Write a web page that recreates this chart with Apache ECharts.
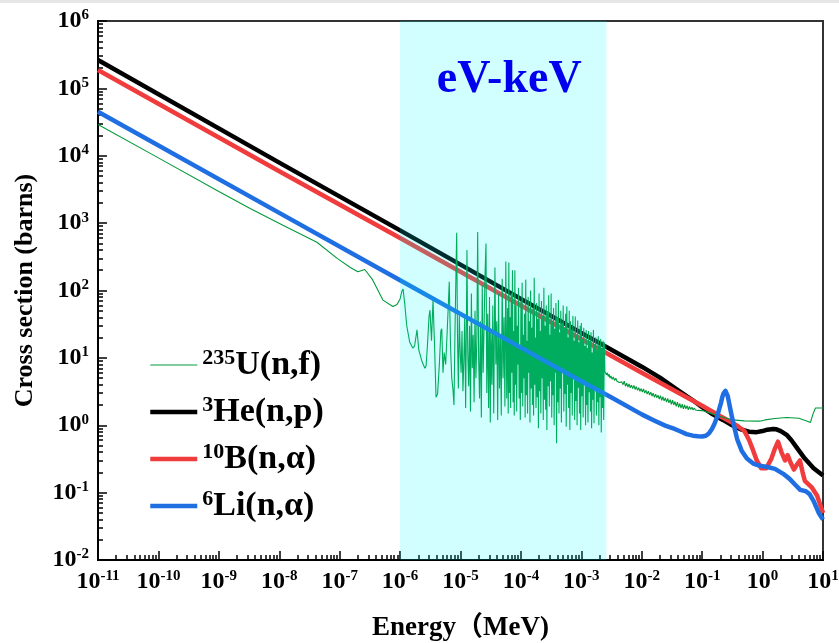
<!DOCTYPE html>
<html><head><meta charset="utf-8">
<script src="https://cdn.jsdelivr.net/npm/echarts@6/dist/echarts.min.js"></script>
<style>html,body{margin:0;padding:0;background:#fff}#c{width:839px;height:643px}</style>
</head><body><div id="c"></div>
<script>
// ---------- data (energies in MeV, cross sections in barns) ----------
const heE = [1e-11, 1e-8, 1e-6, 1e-4, 1e-3, 1e-2, 0.02, 0.04, 0.07, 0.1, 0.15, 0.22, 0.3, 0.45, 0.6, 0.8, 1.0, 1.2, 1.5, 1.7, 2.0, 2.5, 3.0, 4.0, 5.0, 7.0, 10];
const heV = [2.63e5, 7.9e3, 780, 75, 23.5, 7.4, 5.1, 3.3, 2.35, 1.85, 1.45, 1.2, 1.02, 0.86, 0.8, 0.79, 0.82, 0.86, 0.88, 0.87, 0.82, 0.72, 0.6, 0.42, 0.32, 0.23, 0.18];

const bE = [1e-11, 1e-8, 1e-6, 1e-4, 1e-2, 0.1, 0.2, 0.3, 0.4, 0.5, 0.6, 0.7, 0.8, 0.95, 1.15, 1.4, 1.6, 1.8, 2.05, 2.35, 2.6, 2.9, 3.3, 3.7, 4.15, 4.6, 5.0, 6.5, 8.0, 10];
const bV = [1.87e5, 5.9e3, 600, 60, 6.0, 1.95, 1.36, 1.12, 0.95, 0.82, 0.6, 0.42, 0.3, 0.23, 0.23, 0.32, 0.45, 0.57, 0.4, 0.3, 0.36, 0.28, 0.22, 0.26, 0.3, 0.2, 0.15, 0.12, 0.09, 0.05];

const liE = [1e-11, 1e-8, 1e-6, 1e-4, 1e-3, 3e-3, 1e-2, 0.016, 0.025, 0.035, 0.045, 0.055, 0.07, 0.085, 0.1, 0.115, 0.13, 0.145, 0.16, 0.175, 0.19, 0.205, 0.215, 0.225, 0.235, 0.243, 0.25, 0.258, 0.265, 0.275, 0.29, 0.31, 0.33, 0.355, 0.38, 0.41, 0.45, 0.55, 0.7, 0.9, 1.2, 1.6, 2.2, 2.8, 3.5, 4.2, 5.2, 6.0, 7.0, 8.5, 10];
const liV = [4.5e4, 1.42e3, 142, 14.2, 4.5, 2.65, 1.45, 1.18, 0.98, 0.88, 0.8, 0.74, 0.7, 0.685, 0.68, 0.7, 0.76, 0.88, 1.05, 1.3, 1.7, 2.15, 2.6, 2.95, 3.15, 3.25, 3.2, 3.05, 2.7, 2.3, 1.8, 1.35, 1.05, 0.8, 0.62, 0.52, 0.42, 0.32, 0.27, 0.25, 0.24, 0.225, 0.19, 0.16, 0.13, 0.11, 0.105, 0.095, 0.075, 0.05, 0.04];

// 235U(n,f): thermal region [E, sigma]
const u235Low = [[1e-11, 2.9e4], [1e-10, 9.3e3], [1e-9, 2.95e3], [3.3e-9, 1.65e3], [1.15e-8, 930], [4.2e-8, 520], [9.1e-8, 300], [1.5e-7, 220], [2.0e-7, 190], [2.6e-7, 205], [3.5e-7, 145], [5.2e-7, 72], [7.6e-7, 58], [8.9e-7, 62]];
// resolved resonance region [log10(E), sigma]
const u235Res = [
[-6.00,75],[-5.97,98],[-5.95,105],[-5.92,60],[-5.89,30],[-5.84,17],[-5.79,14],[-5.76,15],[-5.72,26],[-5.69,13],[-5.64,9],[-5.59,7],[-5.57,7.5],[-5.55,14],[-5.52,42],[-5.505,51],[-5.48,18],[-5.455,72],[-5.43,16],[-5.405,2.6],[-5.38,2.9],[-5.35,8],[-5.325,25],[-5.31,27],[-5.29,6],[-5.27,12],[-5.245,8],[-5.225,20],[-5.20,65],[-5.186,135],[-5.165,15],[-5.145,5],[-5.125,3.4],[-5.108,2.0],[-5.09,30],[-5.075,180],[-5.063,720],[-5.05,22],[-5.035,3.5],[-5.02,42],[-5.005,12],
[-4.99,6],[-4.975,25],[-4.96,3.2],[-4.945,9],[-4.93,40],[-4.915,1.8],[-4.90,60],[-4.893,400],[-4.88,12],[-4.865,3.8],[-4.85,30],[-4.835,1.6],[-4.82,90],[-4.805,7],[-4.79,22],[-4.775,2.2],[-4.76,50],[-4.745,5],[-4.73,18],[-4.716,740],[-4.70,10],[-4.685,2.5],[-4.67,35],[-4.655,1.3],[-4.64,120],[-4.625,6],[-4.61,28],[-4.595,160],[-4.578,500],[-4.565,3],[-4.55,45],[-4.535,1.8],[-4.52,80],[-4.507,1.1],[-4.495,25],[-4.48,4],[-4.465,60],[-4.45,1.5],[-4.43,220],[-4.415,8],[-4.40,35],[-4.385,1.2],[-4.37,90],[-4.355,3.5],[-4.34,20],[-4.325,1.4],[-4.31,150],[-4.295,5],[-4.28,40],[-4.265,1.9],[-4.25,270],[-4.235,2.5],[-4.22,55],[-4.21,1.5],
[-4.20,260],[-4.19,3.0],[-4.18,40],[-4.17,1.8],[-4.16,90],[-4.15,6],[-4.14,200],[-4.13,2.2],[-4.12,25],[-4.11,1.4],
[-4.10,200],[-4.09,4],[-4.08,60],[-4.07,1.6],[-4.06,30],[-4.05,8],[-4.04,110],[-4.03,2.5],[-4.02,15],[-4.01,1.2],
[-4.00,70],[-3.99,3],[-3.98,130],[-3.97,1.9],[-3.96,22],[-3.95,5],[-3.94,45],[-3.93,1.3],[-3.92,145],[-3.91,2.8],
[-3.90,18],[-3.89,1.5],[-3.88,80],[-3.87,6],[-3.86,35],[-3.85,1.1],[-3.84,100],[-3.83,3.5],[-3.82,28],[-3.81,2.0],
[-3.80,55],[-3.79,1.4],[-3.78,155],[-3.77,4],[-3.76,20],[-3.75,1.8],[-3.74,65],[-3.73,2.6],[-3.72,38],[-3.71,0.9],
[-3.70,90],[-3.69,3.2],[-3.68,25],[-3.67,1.5],[-3.66,70],[-3.65,5],[-3.64,42],[-3.63,1.2],[-3.62,110],[-3.61,2.4],
[-3.60,30],[-3.59,1.7],[-3.58,60],[-3.57,0.85],[-3.56,48],[-3.55,3.8],[-3.54,85],[-3.53,1.9],[-3.52,22],[-3.51,4.5],
[-3.50,90],[-3.49,1.3],[-3.48,35],[-3.47,2.8],[-3.46,55],[-3.45,1.0],[-3.44,27],[-3.43,6],[-3.42,65],[-3.41,0.54],
[-3.40,40],[-3.39,2.2],[-3.38,72],[-3.37,1.5],[-3.36,24],[-3.35,3.5],[-3.34,50],[-3.33,1.1],[-3.32,33],[-3.31,7],
[-3.30,60],[-3.29,1.6],[-3.28,28],[-3.27,2.9],[-3.26,45],[-3.25,0.95],[-3.24,58],[-3.23,4],[-3.22,20],[-3.21,1.8],
[-3.20,50],[-3.19,0.85],[-3.18,35],[-3.17,3],[-3.16,26],[-3.15,1.4],[-3.14,42],[-3.13,5],[-3.12,18],[-3.11,1.2],
[-3.10,41],[-3.09,2.3],[-3.08,22],[-3.07,1.0],[-3.06,36],[-3.05,3.6],[-3.04,17],[-3.03,1.5],[-3.02,30],[-3.01,0.85],
[-3.00,33],[-2.99,2.7],[-2.98,19],[-2.97,1.3],[-2.96,28],[-2.95,4.2],[-2.94,15],[-2.93,1.0],[-2.92,26],[-2.91,2.0],
[-2.90,14],[-2.89,1.1],[-2.88,25],[-2.87,3.1],[-2.86,18],[-2.85,1.6],[-2.84,24],[-2.83,0.9],[-2.82,12],[-2.81,2.4],
[-2.80,26],[-2.79,1.07],[-2.78,16],[-2.77,3.3],[-2.76,20],[-2.75,1.4],[-2.74,13],[-2.73,2.2],[-2.72,21],[-2.71,1.0],
[-2.70,15],[-2.69,2.6],[-2.68,19],[-2.67,0.78],[-2.66,14],[-2.65,1.8],[-2.64,18],[-2.63,1.2],[-2.62,17]
];
// unresolved region [log10(E), sigma]
const u235Unres = [
[-2.61,6.2],[-2.60,6.4],[-2.585,5.6],[-2.57,6.0],[-2.555,5.3],[-2.54,5.7],[-2.525,5.0],[-2.51,5.4],[-2.49,4.8],[-2.47,5.2],[-2.45,4.6],[-2.43,5.0],[-2.41,4.5],[-2.39,4.8],[-2.37,4.3],[-2.35,4.6],[-2.33,4.4],[-2.31,4.0],[-2.29,4.5],[-2.27,3.8],[-2.25,4.2],[-2.23,3.7],[-2.21,4.1],[-2.19,3.6],[-2.17,3.95],[-2.15,3.5],[-2.13,3.9],[-2.11,3.4],[-2.09,3.75],[-2.07,3.3],[-2.05,3.6],[-2.03,3.2],[-2.01,3.5],[-1.99,3.1],[-1.97,3.45],[-1.95,3.0],[-1.93,3.3],[-1.91,2.9],[-1.89,3.2],[-1.87,2.8],[-1.85,3.1],[-1.83,2.7],[-1.81,3.0],[-1.79,2.6],[-1.77,2.9],[-1.75,2.55],[-1.73,2.8],[-1.71,2.45],[-1.69,2.75],[-1.67,2.35],[-1.65,2.65],[-1.63,2.3],[-1.61,2.55],[-1.59,2.2],[-1.57,2.5],[-1.55,2.15],[-1.53,2.4],[-1.51,2.05],[-1.49,2.35],[-1.47,2.0],[-1.45,2.25],[-1.43,1.9],[-1.41,2.2],[-1.39,1.85],[-1.37,2.1],[-1.35,1.8],[-1.33,2.05],[-1.31,1.75],[-1.29,2.0],[-1.27,1.75],[-1.25,1.95],[-1.23,1.7],[-1.21,1.9],[-1.19,1.72],[-1.17,1.85],[-1.15,1.68],[-1.13,1.8],[-1.11,1.68],[-1.09,1.75],[-1.07,1.66],[-1.05,1.72]
];
// fast region [E, sigma]
const u235High = [[0.1, 1.65], [0.14, 1.5], [0.2, 1.35], [0.32, 1.2], [0.5, 1.16], [0.9, 1.15], [1.1, 1.2], [1.6, 1.26], [2.5, 1.3], [4.0, 1.27], [5.5, 1.15], [6.2, 1.1], [6.8, 1.45], [7.5, 1.8], [10, 1.8]];

const band = [1e-6, 2.6e-3];
const bandLabel = 'eV-keV';
const xDecades = [-11, 1];
const yDecades = [-2, 6];
const names = ['235U(n,f)', '3He(n,p)', '10B(n,\u03b1)', '6Li(n,\u03b1)'];
const legendText = {
  '235U(n,f)': '{s|235}{m|U(n,f)}',
  '3He(n,p)': '{s|3}{m|He(n,p)}',
  '10B(n,\u03b1)': '{s|10}{m|B(n,\u03b1)}',
  '6Li(n,\u03b1)': '{s|6}{m|Li(n,\u03b1)}'
};
const colors = { u: '#009a3a', he: '#000000', b: '#f03c3c', li: '#1f6fe3' };

// ---------- build ----------
const zip = (a, b) => a.map((v, i) => [v, b[i]]);
const fromLog = arr => arr.map(p => [Math.pow(10, p[0]), p[1]]);
const u235 = u235Low.concat(fromLog(u235Res), fromLog(u235Unres), u235High);

const minor = (lo, hi) => { const r = []; for (let n = lo; n < hi; n++) for (let k = 2; k <= 9; k++) r.push(n + Math.log10(k)); return r; };
const FONT = "'Liberation Serif','Times New Roman','Noto Sans CJK SC',serif";
const tickFmt = v => '{b|10}{s|' + Math.round(v) + '}';
const labRich = {
  b: { fontFamily: FONT, fontWeight: 'bold', fontSize: 24, color: '#000', lineHeight: 26 },
  s: { fontFamily: FONT, fontWeight: 'bold', fontSize: 15, color: '#000', lineHeight: 15, verticalAlign: 'top' }
};
const tickLine = { color: '#000', width: 1.5 };

const chart = echarts.init(document.getElementById('c'), null, { renderer: 'canvas' });
chart.setOption({
  animation: false,
  backgroundColor: '#fff',
  graphic: [{ type: 'rect', left: 0, top: 0, shape: { width: 839, height: 3 }, style: { fill: '#e6e6e6' }, silent: true }],
  grid: { left: 98, right: 16, top: 21, bottom: 83, show: true, borderColor: '#333', borderWidth: 2, backgroundColor: 'transparent',
    containLabel: false, outerBoundsMode: 'none' },
  legend: {
    data: [
      { name: names[0], lineStyle: { width: 1, color: colors.u } },
      { name: names[1], lineStyle: { width: 4.5, color: colors.he } },
      { name: names[2], lineStyle: { width: 4.5, color: colors.b } },
      { name: names[3], lineStyle: { width: 4.5, color: colors.li } }
    ],
    orient: 'vertical', left: 148, top: 347, padding: 0, itemGap: 12, itemWidth: 47, itemHeight: 14,
    selectedMode: false,
    itemStyle: { opacity: 0 },
    formatter: n => legendText[n],
    textStyle: {
      rich: {
        m: { fontFamily: FONT, fontWeight: 'bold', fontSize: 34, color: '#000', lineHeight: 36 },
        s: { fontFamily: FONT, fontWeight: 'bold', fontSize: 22, color: '#000', lineHeight: 22, verticalAlign: 'top' }
      }
    }
  },
  xAxis: [
    { type: 'log', logBase: 10, min: 1e-11, max: 10, show: false },
    { type: 'value', min: xDecades[0], max: xDecades[1], interval: 1, position: 'bottom',
      axisLine: { show: true, onZero: false, lineStyle: { color: '#000', width: 2 } },
      axisTick: { show: true, inside: true, length: 9, lineStyle: tickLine },
      splitLine: { show: false },
      axisLabel: { formatter: tickFmt, rich: labRich, margin: 9 },
      name: 'Energy\uff08MeV)', nameLocation: 'middle', nameGap: 55,
      nameTextStyle: { fontFamily: FONT, fontWeight: 'bold', fontSize: 27, color: '#000' } },
    { type: 'value', min: xDecades[0], max: xDecades[1], position: 'bottom',
      axisLine: { show: false, onZero: false }, axisLabel: { show: false }, splitLine: { show: false },
      axisTick: { show: true, inside: true, length: 5, lineStyle: tickLine, customValues: minor(xDecades[0], xDecades[1]) } }
  ],
  yAxis: [
    { type: 'log', logBase: 10, min: 1e-2, max: 1e6, show: false },
    { type: 'value', min: yDecades[0], max: yDecades[1], interval: 1, position: 'left',
      axisLine: { show: true, onZero: false, lineStyle: { color: '#000', width: 2 } },
      axisTick: { show: true, inside: true, length: 9, lineStyle: tickLine },
      splitLine: { show: false },
      axisLabel: { formatter: tickFmt, rich: labRich, margin: 9 },
      name: 'Cross section (barns)', nameLocation: 'middle', nameGap: 60,
      nameTextStyle: { fontFamily: FONT, fontWeight: 'bold', fontSize: 26, color: '#000' } },
    { type: 'value', min: yDecades[0], max: yDecades[1], position: 'left',
      axisLine: { show: false, onZero: false }, axisLabel: { show: false }, splitLine: { show: false },
      axisTick: { show: true, inside: true, length: 5, lineStyle: tickLine, customValues: minor(yDecades[0], yDecades[1]) } }
  ],
  series: [
    { name: names[1], type: 'line', xAxisIndex: 0, yAxisIndex: 0, data: zip(heE, heV), symbol: 'none',
      lineStyle: { color: colors.he, width: 4.5, join: 'round' }, itemStyle: { color: colors.he } },
    { name: names[2], type: 'line', xAxisIndex: 0, yAxisIndex: 0, data: zip(bE, bV), symbol: 'none',
      lineStyle: { color: colors.b, width: 4.5, join: 'round' }, itemStyle: { color: colors.b } },
    { name: names[0], type: 'line', xAxisIndex: 0, yAxisIndex: 0, data: u235, symbol: 'none', sampling: null,
      lineStyle: { color: colors.u, width: 1.1 }, itemStyle: { color: colors.u } },
    { name: names[3], type: 'line', xAxisIndex: 0, yAxisIndex: 0, data: zip(liE, liV), symbol: 'none',
      lineStyle: { color: colors.li, width: 4.5, join: 'round' }, itemStyle: { color: colors.li } },
    { type: 'custom', xAxisIndex: 0, yAxisIndex: 0, z: 5, silent: true,
      data: [[band[0], band[1], 1e-2, 1e6]], encode: { x: [0, 1], y: [2, 3] },
      renderItem: (params, api) => {
        const p0 = api.coord([api.value(0), api.value(3)]);
        const p1 = api.coord([api.value(1), api.value(2)]);
        return { type: 'group', children: [
          { type: 'rect', shape: { x: p0[0], y: p0[1], width: p1[0] - p0[0], height: p1[1] - p0[1] }, style: { fill: 'rgba(0,255,255,0.18)' } },
          { type: 'text', x: (p0[0] + p1[0]) / 2 + 6, y: p0[1] + 36,
            style: { text: bandLabel, fill: '#0000ee', font: "bold 46px 'Liberation Serif', serif", align: 'center', verticalAlign: 'top' } }
        ] };
      } }
  ]
});
</script></body></html>
